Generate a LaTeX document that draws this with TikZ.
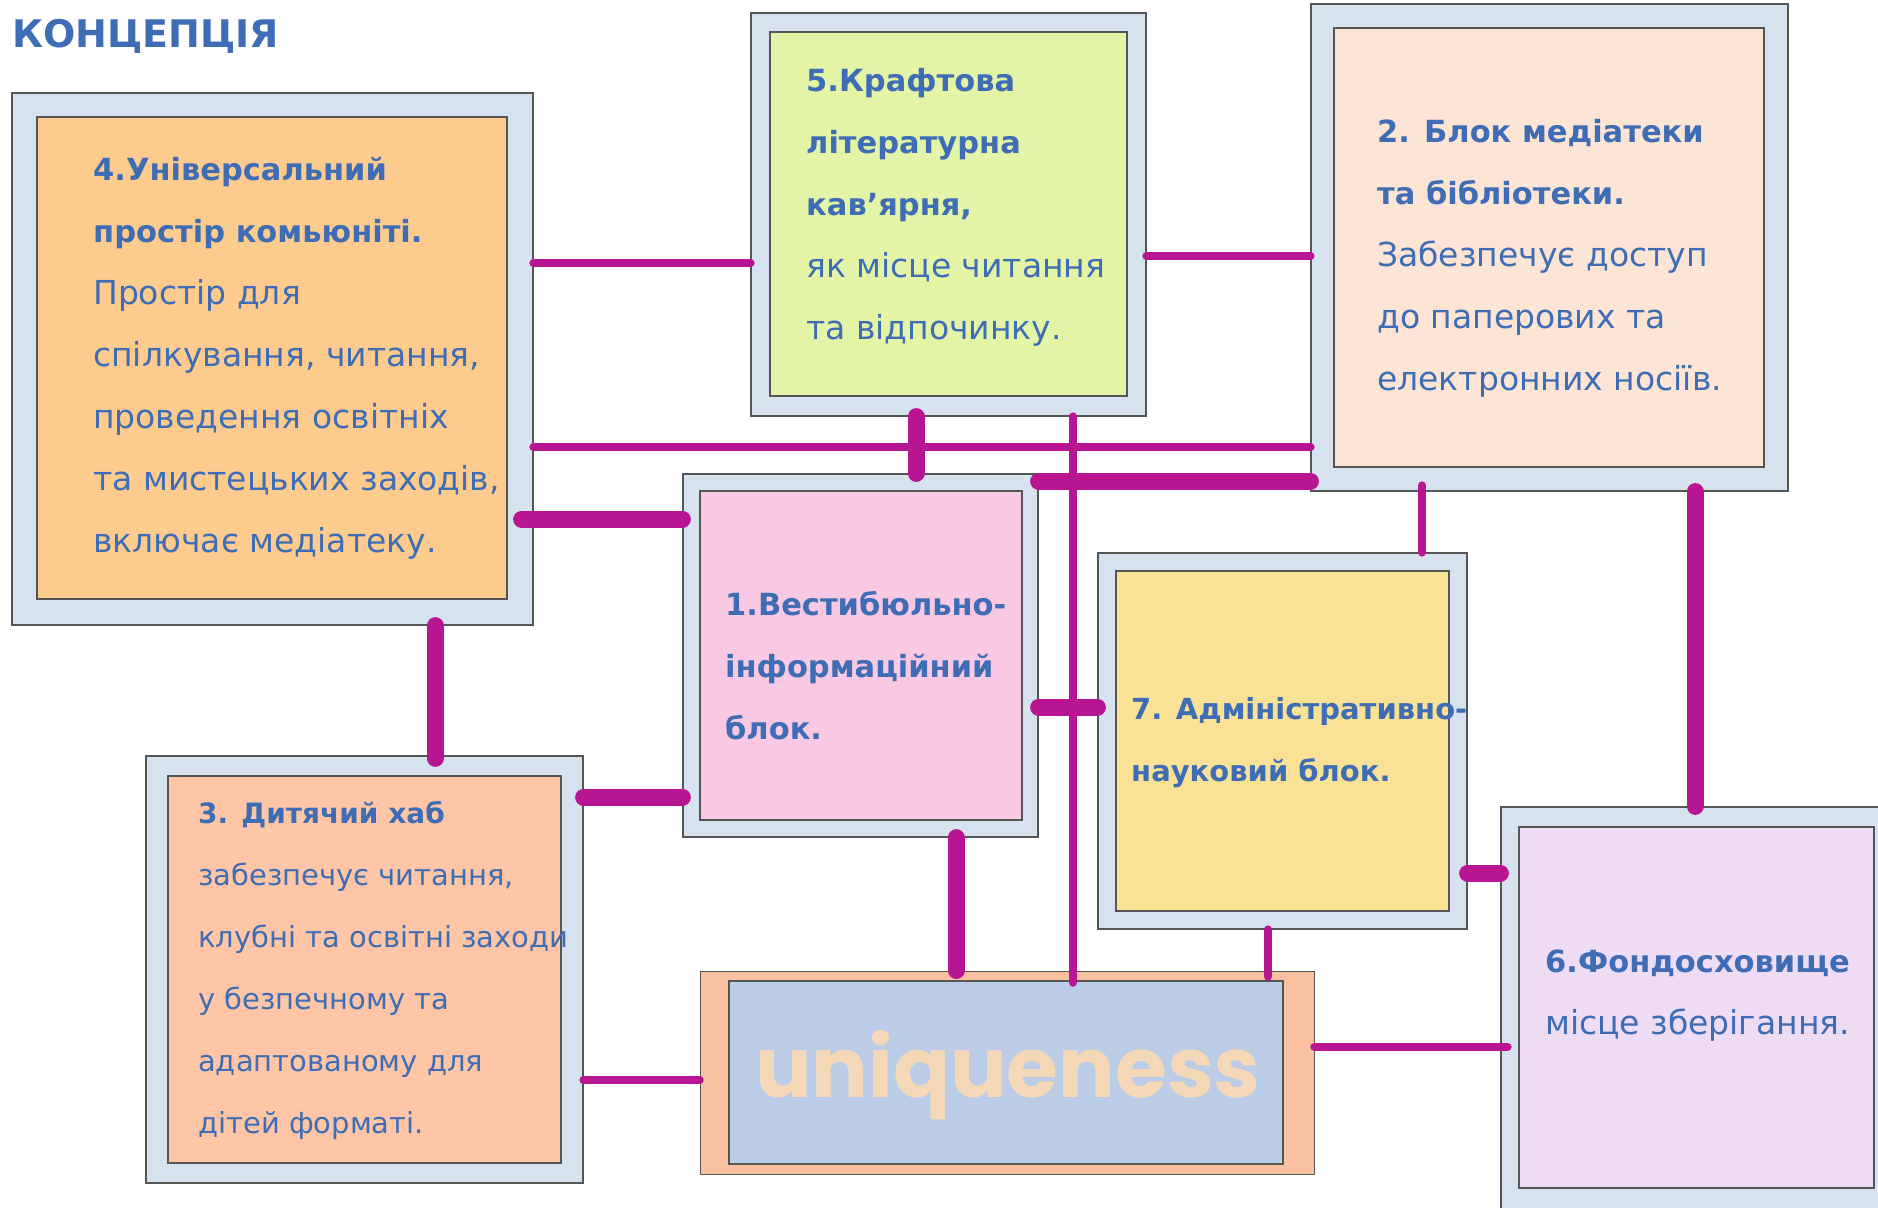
\documentclass[tikz,border=0pt]{standalone}
\usepackage{fontspec}
\setmainfont{DejaVu Sans}
\newfontfamily\uniqfont{Poppins}
\usetikzlibrary{fit}
\definecolor{txtblue}{RGB}{62,109,181}
\definecolor{linkc}{RGB}{183,21,145}
\definecolor{outerblue}{RGB}{214,227,238}
\definecolor{bordergray}{RGB}{85,85,85}
\definecolor{cfour}{RGB}{253,203,141}
\definecolor{cfive}{RGB}{228,244,167}
\definecolor{ctwo}{RGB}{253,229,213}
\definecolor{cone}{RGB}{249,200,226}
\definecolor{cseven}{RGB}{249,225,150}
\definecolor{cthree}{RGB}{254,198,166}
\definecolor{csix}{RGB}{238,220,245}
\definecolor{uouter}{RGB}{249,193,160}
\definecolor{uinner}{RGB}{187,205,230}
\definecolor{utext}{RGB}{245,216,184}
\newcommand\bt[1]{{\fontsize{30.5}{62}\selectfont\bfseries #1}}
\newcommand\btsev[1]{{\fontsize{29}{62}\selectfont\bfseries #1}}
\newcommand\btsm[1]{{\fontsize{28}{62}\selectfont\bfseries #1}}
\tikzset{
  outerbox/.style={draw=bordergray, fill=outerblue, line width=1.2pt, inner sep=0pt},
  innerbox/.style={draw=bordergray, line width=1.2pt, inner sep=0pt},
  thinlink/.style={draw=linkc, line width=8.5pt, line cap=round},
  thicklink/.style={draw=linkc, line width=17pt, line cap=round},
  txt/.style={anchor=north west, inner sep=0pt, align=left, text=txtblue, font=\fontsize{33}{62}\selectfont},
  txtsm/.style={anchor=north west, inner sep=0pt, align=left, text=txtblue, font=\fontsize{29}{62}\selectfont}
}
\begin{document}
\begin{tikzpicture}[x=1pt,y=-1pt]
\useasboundingbox (0,0) rectangle (1878,1207);
\fill[white] (0,0) rectangle (1878,1207);
\clip (0,0) rectangle (1878,1207);

% title
\node[anchor=base west, inner sep=0pt, text=txtblue, font=\fontsize{38}{44}\selectfont\bfseries] (title) at (12,48) {КОНЦЕПЦІЯ};

% boxes
\node[outerbox, fit={(12,93) (533,625)}] (b4o) {};
\node[innerbox, fill=cfour, fit={(37,117) (507,599)}] (b4i) {};
\node[outerbox, fit={(751,13) (1146,416)}] (b5o) {};
\node[innerbox, fill=cfive, fit={(770,32) (1127,396)}] (b5i) {};
\node[outerbox, fit={(1311,4) (1788,491)}] (b2o) {};
\node[innerbox, fill=ctwo, fit={(1334,28) (1764,467)}] (b2i) {};
\node[outerbox, fit={(683,474) (1038,837)}] (b1o) {};
\node[innerbox, fill=cone, fit={(700,491) (1022,820)}] (b1i) {};
\node[outerbox, fit={(1098,553) (1467,929)}] (b7o) {};
\node[innerbox, fill=cseven, fit={(1116,571) (1449,911)}] (b7i) {};
\node[outerbox, fit={(146,756) (583,1183)}] (b3o) {};
\node[innerbox, fill=cthree, fit={(168,776) (561,1163)}] (b3i) {};
\node[outerbox, fit={(1501,807) (1900,1240)}] (b6o) {};
\node[innerbox, fill=csix, fit={(1519,827) (1874,1188)}] (b6i) {};
\node[draw=bordergray, line width=1pt, fill=uouter, inner sep=0pt, fit={(700,971) (1314,1174)}] (uo) {};
\node[innerbox, fill=uinner, fit={(729,981) (1283,1164)}] (ui) {};
\node[anchor=base, inner sep=0pt, text=utext, font=\uniqfont\fontsize{84}{96}\selectfont\bfseries] (utxt) at (1008,1097) {uniqueness};

% texts
\node[txt] (t4) at (93,136.6) {\strut\bt{4.Універсальний}\\\strut\bt{простір комьюніті.}\\\strut Простір для\\\strut спілкування, читання,\\\strut проведення освітніх\\\strut та мистецьких заходів,\\\strut включає медіатеку.};
\node[txt] (t5) at (806,47.6) {\strut\bt{5.Крафтова}\\\strut\bt{літературна}\\\strut\bt{кав’ярня,}\\\strut як місце читання\\\strut та відпочинку.};
\node[txt] (t2) at (1377,98.6) {\strut\bt{2. Блок медіатеки}\\\strut\bt{та бібліотеки.}\\\strut Забезпечує доступ\\\strut до паперових та\\\strut електронних носіїв.};
\node[txt] (t1) at (725,571.6) {\strut\bt{1.Вестибюльно-}\\\strut\bt{інформаційний}\\\strut\bt{блок.}};
\node[txt] (t7) at (1131,675.6) {\strut\btsev{7. Адміністративно-}\\\strut\btsev{науковий блок.}};
\node[txtsm] (t3) at (198,779.6) {\strut\btsm{3. Дитячий хаб}\\\strut забезпечує читання,\\\strut клубні та освітні заходи\\\strut у безпечному та\\\strut адаптованому для\\\strut дітей форматі.};
\node[txt] (t6) at (1545,928.6) {\strut\bt{6.Фондосховище}\\\strut місце зберігання.};

% connectors
\draw[thinlink] (b4o.east |- 0,263) -- (b5o.west |- 0,263);
\draw[thinlink] (b5o.east |- 0,256) -- (b2o.west |- 0,256);
\draw[thinlink] (b4o.east |- 0,447) -- (b2o.west |- 0,447);
\draw[thicklink] (b5o.south -| 916,0) -- (b1o.north -| 916,0);
\draw[thinlink, shorten >=-12pt] (b5o.south -| 1073,0) -- (uo.north -| 1073,0);
\draw[thicklink] (b1o.east |- 0,481) -- (b2o.west |- 0,481);
\draw[thicklink, shorten <=-12pt] (b4o.east |- 0,519) -- (b1o.west |- 0,519);
\draw[thicklink, shorten >=-3pt] (b4o.south -| 435,0) -- (b3o.north -| 435,0);
\draw[thicklink] (b3o.east |- 0,797) -- (b1o.west |- 0,797);
\draw[thicklink] (b1o.east |- 0,707) -- (b7o.west |- 0,707);
\draw[thicklink] (b1o.south -| 956,0) -- (uo.north -| 956,0);
\draw[thinlink, shorten <=-6pt] (b2o.south -| 1422,0) -- (b7o.north -| 1422,0);
\draw[thicklink] (b2o.south -| 1695,0) -- (b6o.north -| 1695,0);
\draw[thicklink] (b7o.east |- 0,873) -- (b6o.west |- 0,873);
\draw[thinlink, shorten >=-6pt] (b7o.south -| 1268,0) -- (uo.north -| 1268,0);
\draw[thinlink, shorten >=-7pt] (uo.east |- 0,1047) -- (b6o.west |- 0,1047);
\draw[thinlink] (b3o.east |- 0,1080) -- (uo.west |- 0,1080);
\end{tikzpicture}
\end{document}
